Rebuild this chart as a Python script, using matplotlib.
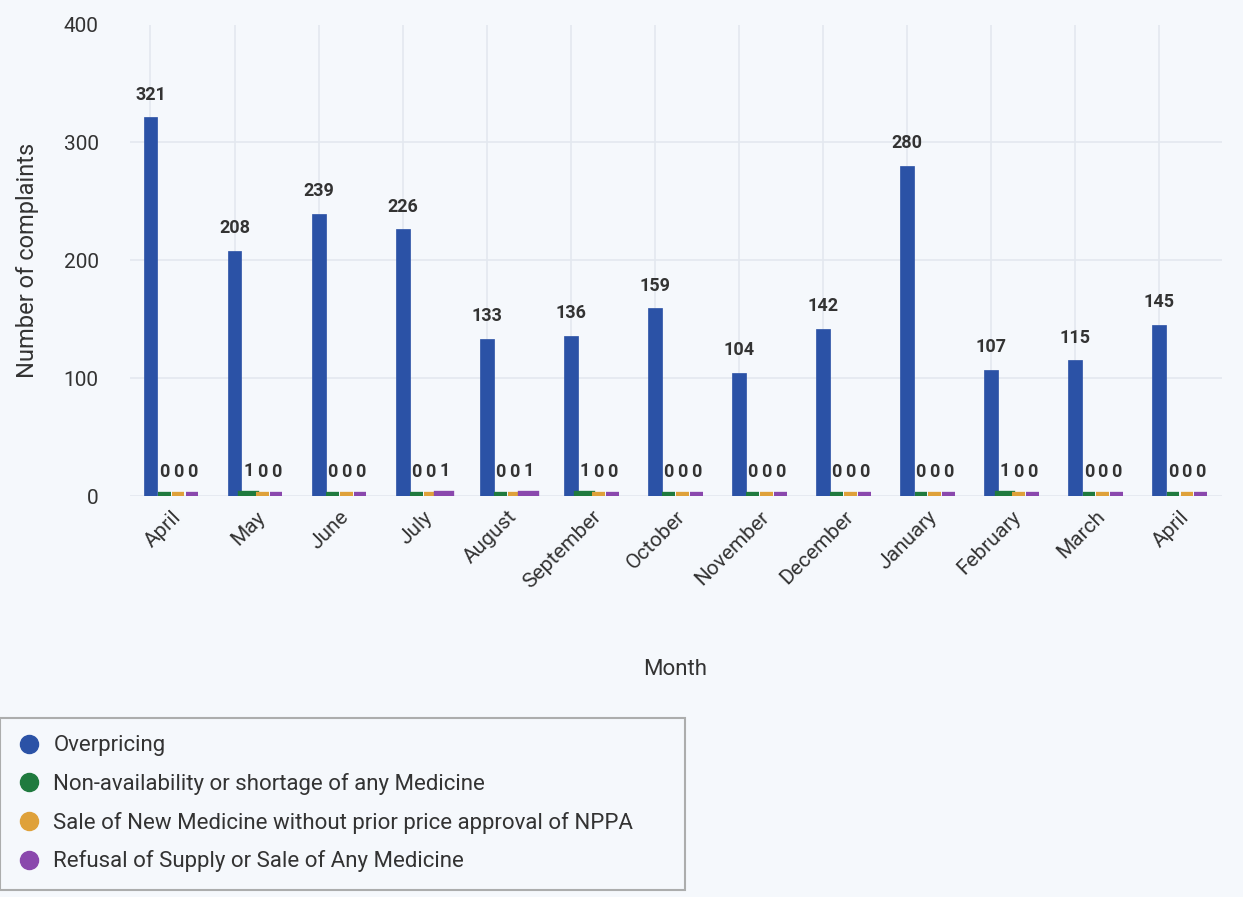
import numpy as np
import matplotlib.pyplot as plt
from matplotlib.lines import Line2D

months = ["April", "May", "June", "July", "August", "September", "October",
          "November", "December", "January", "February", "March", "April"]

overpricing = [321, 208, 239, 226, 133, 136, 159, 104, 142, 280, 107, 115, 145]
non_availability = [0, 1, 0, 0, 0, 1, 0, 0, 0, 0, 1, 0, 0]
sale_without_approval = [0, 0, 0, 0, 0, 0, 0, 0, 0, 0, 0, 0, 0]
refusal_of_supply = [0, 0, 0, 1, 1, 0, 0, 0, 0, 0, 0, 0, 0]

series_names = [
    "Overpricing",
    "Non-availability or shortage of any Medicine",
    "Sale of New Medicine without prior price approval of NPPA",
    "Refusal of Supply or Sale of Any Medicine",
]
colors = ["#2b52a6", "#1f7a3e", "#dfa13a", "#8a48ad"]

BG = "#f5f8fc"
TXT = "#333333"

plt.rcParams.update({
    "font.family": ["Roboto", "DejaVu Sans"],
    "axes.edgecolor": BG,
})

fig = plt.figure(figsize=(12.43, 8.97), dpi=100, facecolor=BG)
ax = fig.add_axes([0.104, 0.447, 0.879, 0.526], facecolor=BG)

x = np.arange(len(months))
w = 0.165
all_series = [overpricing, non_availability, sale_without_approval, refusal_of_supply]
offsets = [-1.5 * w, -0.5 * w, 0.5 * w, 1.5 * w]

# vertical grid through the main bars
for xi in x:
    ax.axvline(xi + offsets[0], color="#e3e8ef", lw=1.2, zorder=0)

for i, (vals, off, col) in enumerate(zip(all_series, offsets, colors)):
    if i == 0:
        bars = ax.bar(x + off, vals, width=w, color=col, edgecolor=col,
                      linewidth=0.5, zorder=3)
    else:
        # tiny counts: thick edge keeps them visible as a strip on the baseline
        bars = ax.bar(x + off, vals, width=w * 0.9, color=col, edgecolor=col,
                      linewidth=6, zorder=3)
    for b, v in zip(bars, vals):
        ax.annotate(str(v), (b.get_x() + b.get_width() / 2, v),
                    xytext=(0, 10 if i == 0 else 11), textcoords="offset points",
                    ha="center", va="bottom", fontsize=13,
                    fontweight="bold", color=TXT)

ax.set_xlim(-0.5, len(months) - 0.5)
ax.set_ylim(0, 400)
ax.set_yticks([0, 100, 200, 300, 400])
ax.yaxis.grid(True, color="#e3e8ef", lw=1.2, zorder=0)
ax.set_axisbelow(True)

ax.set_xticks(x)
ax.set_xticklabels(months, rotation=45, ha="right", rotation_mode="anchor",
                   fontsize=15, color=TXT)
ax.tick_params(axis="y", labelsize=15, labelcolor=TXT, length=0, pad=22)
ax.tick_params(axis="x", length=0, pad=8)

ax.set_ylabel("Number of complaints", fontsize=17, color=TXT, labelpad=18)
ax.set_xlabel("Month", fontsize=16, color=TXT, labelpad=48)

handles = [Line2D([0], [0], marker="o", ls="none", markersize=13,
                  markerfacecolor=c, markeredgecolor=c) for c in colors]
leg = fig.legend(handles, series_names, loc="upper left",
                 bbox_to_anchor=(0.0, 0.0, 0.551, 0.2), mode="expand",
                 fontsize=16, frameon=True,
                 fancybox=False, edgecolor="#9a9a9a", facecolor=BG,
                 handletextpad=0.6, labelspacing=0.75, borderpad=0.8,
                 handlelength=1.0, borderaxespad=0)
for t in leg.get_texts():
    t.set_color(TXT)
leg.get_frame().set_linewidth(1.5)

fig.savefig("out.png", dpi=100, facecolor=BG)
